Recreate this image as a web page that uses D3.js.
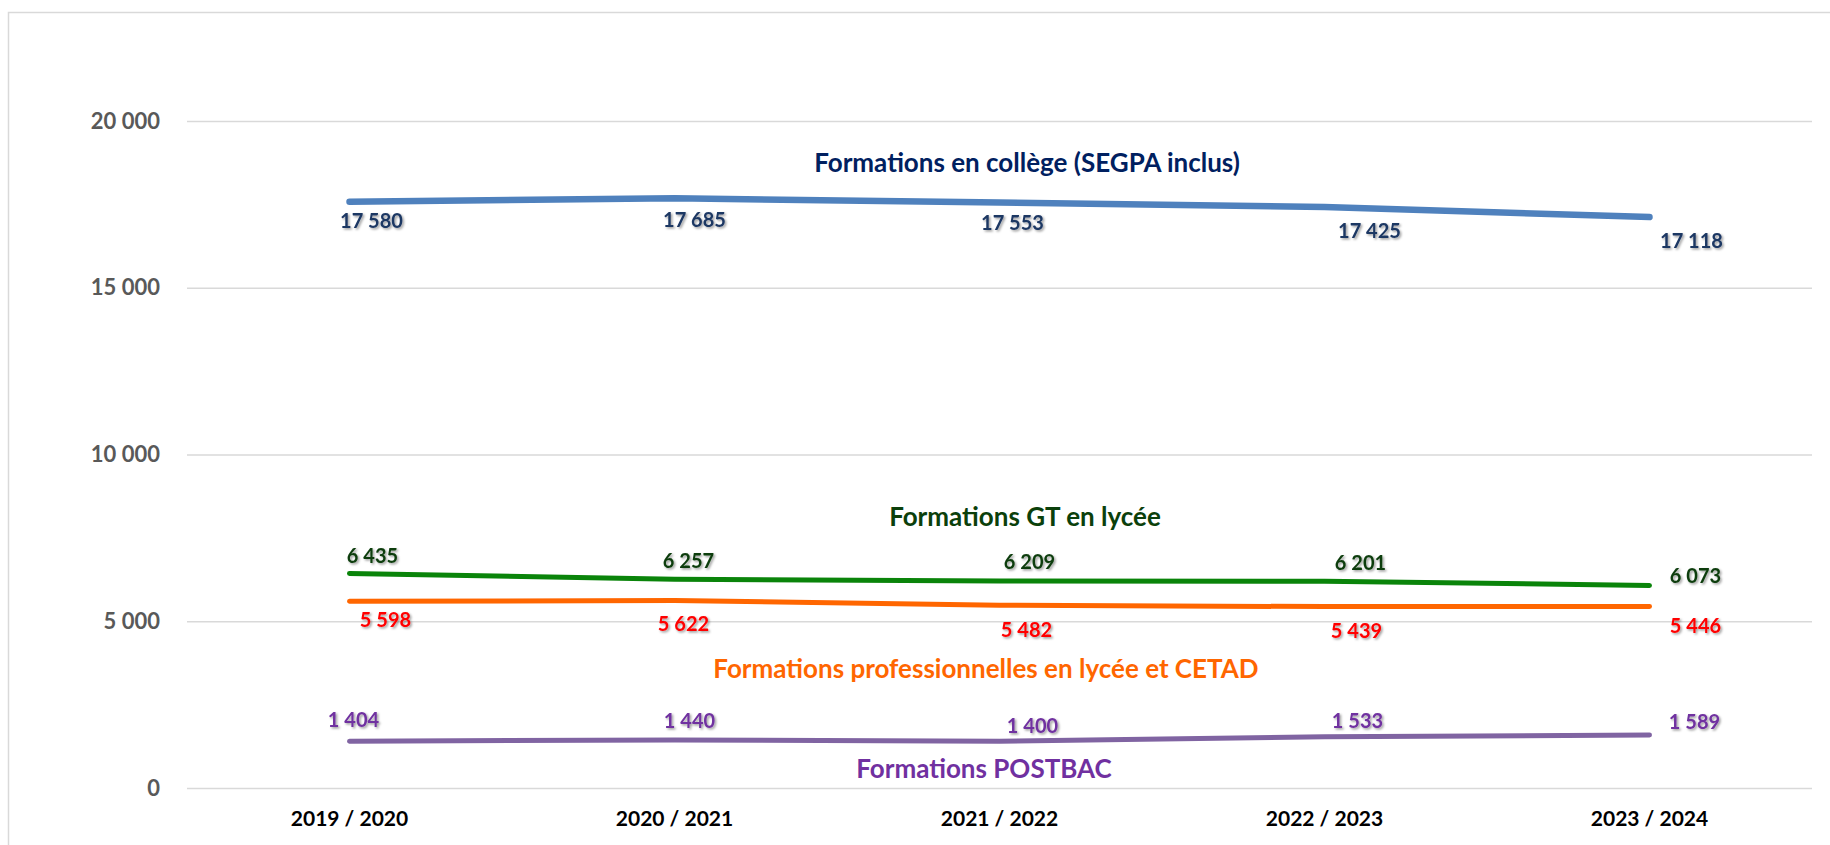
<!DOCTYPE html>
<meta charset="utf-8">
<style>
body { margin: 0; background: #fff; }
text { font-family: Lato, "Open Sans", sans-serif; font-weight: bold; }
.tick text { fill: #595959; font-size: 22px; }
.xlab { fill: #000; font-size: 21px; }
.dlab { font-size: 20px; }
.title { font-size: 26px; }
</style>
<svg width="1830" height="845"></svg>
<script src="https://d3js.org/d3.v7.min.js"></script>
<script>

// years on the x axis
var years = ["2019 / 2020", "2020 / 2021", "2021 / 2022", "2022 / 2023", "2023 / 2024"];

// headcounts per kind of training
var college = [17580, 17685, 17553, 17425, 17118];
var gt      = [6435, 6257, 6209, 6201, 6073];
var pro     = [5598, 5622, 5482, 5439, 5446];
var postbac = [1404, 1440, 1400, 1533, 1589];

var yTicks = [0, 5000, 10000, 15000, 20000];

var seriesNames = [
  "Formations en collège (SEGPA inclus)",
  "Formations GT en lycée",
  "Formations professionnelles en lycée et CETAD",
  "Formations POSTBAC"
];

// label nudges (px) as they were placed by hand in the original
var offCollege = [[22, 26], [20, 29], [13, 27], [45, 31], [42, 31]];
var offGt      = [[23, -10], [14, -11], [30, -12], [36, -11], [46, -2]];
var offPro     = [[36, 26], [9, 30], [27, 32], [32, 31], [46, 27]];
var offPost    = [[4, -14], [15, -12], [33, -8], [33, -9], [45, -6]];

var svg = d3.select("svg");

var fr = d3.formatLocale({decimal: ",", thousands: " ", grouping: [3], currency: ["", " €"]});
var fmt = fr.format(",d");

var plotL = 187, plotR = 1812, plotT = 121, plotB = 788;

var x = d3.scaleBand().domain(years).range([plotL, plotR]);
var y = d3.scaleLinear().domain([0, 20000]).range([plotB, plotT]);
var cx = function(i) { return x(years[i]) + x.bandwidth() / 2; };

// drop shadow for value labels
var defs = svg.append("defs");
defs.append("filter").attr("id", "sh")
    .attr("x", "-20%").attr("y", "-40%").attr("width", "140%").attr("height", "180%")
  .append("feDropShadow")
    .attr("dx", 1.5).attr("dy", 1.5).attr("stdDeviation", 1)
    .attr("flood-color", "#000").attr("flood-opacity", 0.4);

// chart frame
svg.append("rect")
    .attr("x", 8.5).attr("y", 12.5).attr("width", 1840).attr("height", 850)
    .attr("fill", "none").attr("stroke", "#d9d9d9").attr("stroke-width", 1.5);

// y axis with gridlines
var yAxis = svg.append("g")
    .attr("transform", "translate(" + plotL + ",0)")
    .call(d3.axisLeft(y).tickValues(yTicks).tickFormat(fmt).tickSize(-(plotR - plotL)).tickPadding(27));
yAxis.select(".domain").remove();
yAxis.selectAll(".tick line").attr("stroke", "#d9d9d9").attr("stroke-width", 1.3);

// x labels
svg.append("g").selectAll("text")
  .data(years)
  .enter().append("text")
    .attr("class", "xlab")
    .attr("x", function(d, i) { return cx(i); })
    .attr("y", 826)
    .attr("text-anchor", "middle")
    .text(function(d) { return d; });

var series = [
  {values: college, line: "#4F81BD", lab: "#1F3864", title: "#002060", w: 6.5, off: offCollege},
  {values: gt,      line: "#0A840A", lab: "#0B3D0B", title: "#0B400B", w: 5,   off: offGt},
  {values: pro,     line: "#FF6600", lab: "#FF0000", title: "#FF6600", w: 5,   off: offPro},
  {values: postbac, line: "#8064A2", lab: "#7030A0", title: "#7030A0", w: 5,   off: offPost}
];

var line = d3.line()
    .x(function(d, i) { return cx(i); })
    .y(function(d) { return y(d); });

series.forEach(function(s) {
  svg.append("path")
      .datum(s.values)
      .attr("d", line)
      .attr("fill", "none")
      .attr("stroke", s.line)
      .attr("stroke-width", s.w)
      .attr("stroke-linecap", "round")
      .attr("stroke-linejoin", "round");

  svg.append("g").selectAll("text")
    .data(s.values)
    .enter().append("text")
      .attr("class", "dlab")
      .attr("filter", "url(#sh)")
      .attr("fill", s.lab)
      .attr("text-anchor", "middle")
      .attr("x", function(d, i) { return cx(i) + s.off[i][0]; })
      .attr("y", function(d, i) { return y(d) + s.off[i][1]; })
      .text(function(d) { return fmt(d); });
});

// series titles, centred in the middle of the plot near each line
var titlePos = [[1027, 172], [1025, 526], [986, 678], [984, 778]];
svg.append("g").selectAll("text")
  .data(seriesNames)
  .enter().append("text")
    .attr("class", "title")
    .attr("text-anchor", "middle")
    .attr("fill", function(d, i) { return series[i].title; })
    .attr("x", function(d, i) { return titlePos[i][0]; })
    .attr("y", function(d, i) { return titlePos[i][1]; })
    .text(function(d) { return d; });

</script>
